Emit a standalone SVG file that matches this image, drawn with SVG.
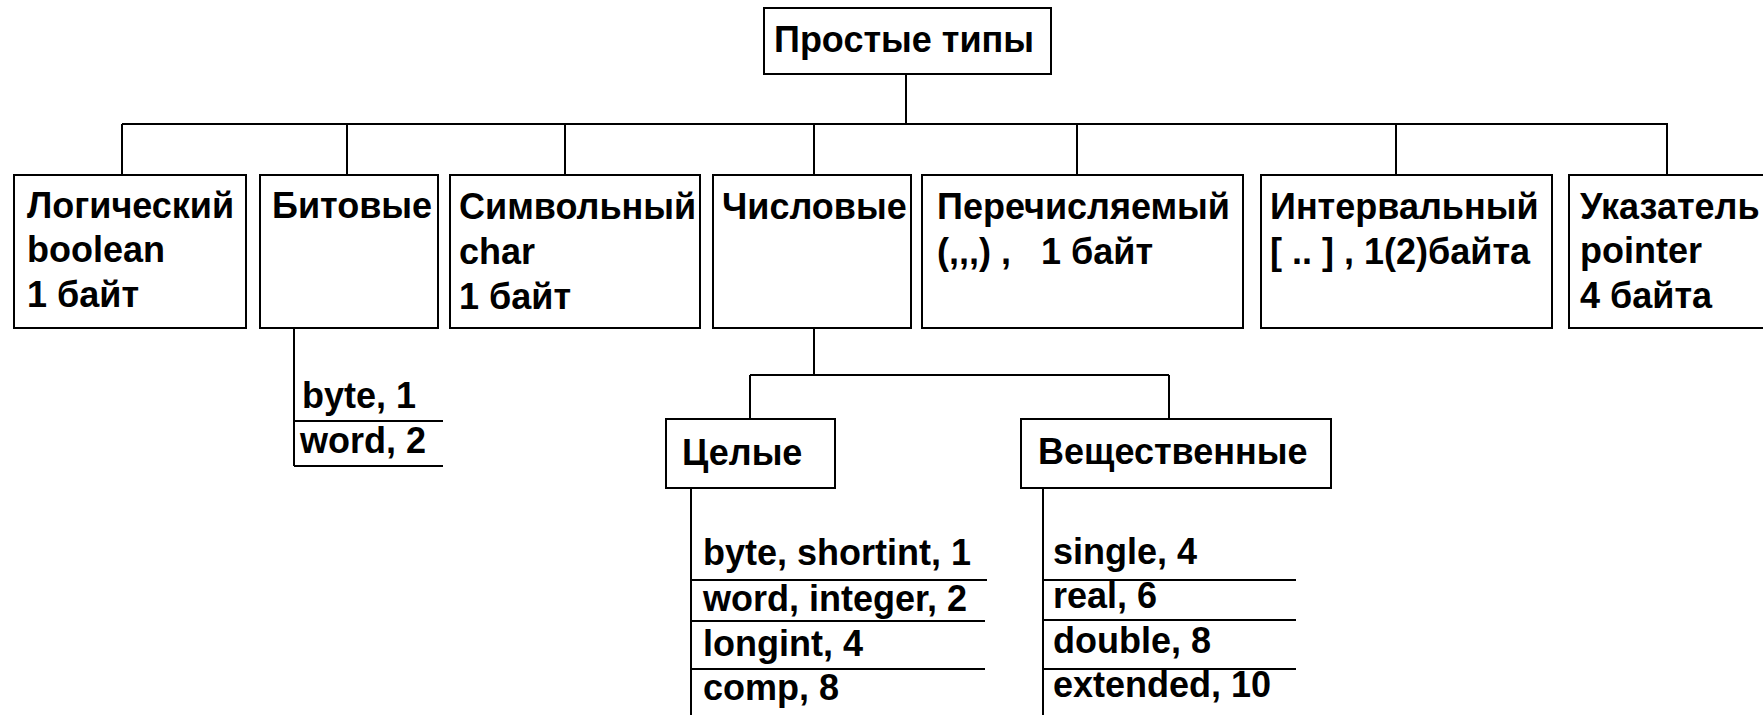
<svg xmlns="http://www.w3.org/2000/svg" width="1763" height="715" viewBox="0 0 1763 715">
<style>
.box{fill:#fff;stroke:#000;stroke-width:2}
.ln{fill:none;stroke:#000;stroke-width:2}
text{font-family:"Liberation Sans",Arial,sans-serif;font-weight:bold;font-size:36px;fill:#000}
</style>
<rect x="0" y="0" width="1763" height="715" fill="#fff"/>
<g id="connectors" class="ln">
<path d="M906 74V124M122 124H1668M122 124V175M347 124V175M565 124V175M814 124V175M1077 124V175M1396 124V175M1667 124V175"/>
<path d="M294 328V466M294 421H443M294 466H443"/>
<path d="M814 328V375M750 375H1169M750 375V419M1169 375V419"/>
<path d="M691 488V715M691 580H987M691 621H985M691 669H985"/>
<path d="M1043 488V715M1043 580H1296M1043 620H1296M1043 669H1296"/>
</g>
<g id="root"><rect class="box" x="764" y="8" width="287" height="66"/><text x="774" y="52">Простые типы</text></g>
<g id="logical"><rect class="box" x="14" y="175" width="232" height="153"/><text x="27" y="218">Логический</text><text x="27" y="262">boolean</text><text x="27" y="307">1 байт</text></g>
<g id="bit"><rect class="box" x="260" y="175" width="178" height="153"/><text x="272" y="218">Битовые</text></g>
<g id="char"><rect class="box" x="450" y="175" width="250" height="153"/><text x="459" y="219">Символьный</text><text x="459" y="264">char</text><text x="459" y="309">1 байт</text></g>
<g id="numeric"><rect class="box" x="713" y="175" width="198" height="153"/><text x="722" y="219">Числовые</text></g>
<g id="enum"><rect class="box" x="922" y="175" width="321" height="153"/><text x="937" y="219">Перечисляемый</text><text x="937" y="264" xml:space="preserve">(,,,) ,   1 байт</text></g>
<g id="interval"><rect class="box" x="1261" y="175" width="291" height="153"/><text x="1270" y="219">Интервальный</text><text x="1270" y="264" xml:space="preserve">[ .. ] , 1(2)байта</text></g>
<g id="pointer"><rect class="box" x="1569" y="175" width="230" height="153"/><text x="1580" y="219">Указатель</text><text x="1580" y="263">pointer</text><text x="1580" y="308">4 байта</text></g>
<g id="bitlist"><text x="302" y="408">byte, 1</text><text x="300" y="453">word, 2</text></g>
<g id="integer"><rect class="box" x="666" y="419" width="169" height="69"/><text x="682" y="465">Целые</text></g>
<g id="real"><rect class="box" x="1021" y="419" width="310" height="69"/><text x="1038" y="464">Вещественные</text></g>
<g id="intlist"><text x="703" y="565">byte, shortint, 1</text><text x="703" y="611">word, integer, 2</text><text x="703" y="656">longint, 4</text><text x="703" y="700">comp, 8</text></g>
<g id="reallist"><text x="1053" y="564">single, 4</text><text x="1053" y="608">real, 6</text><text x="1053" y="653">double, 8</text><text x="1053" y="697">extended, 10</text></g>
</svg>
